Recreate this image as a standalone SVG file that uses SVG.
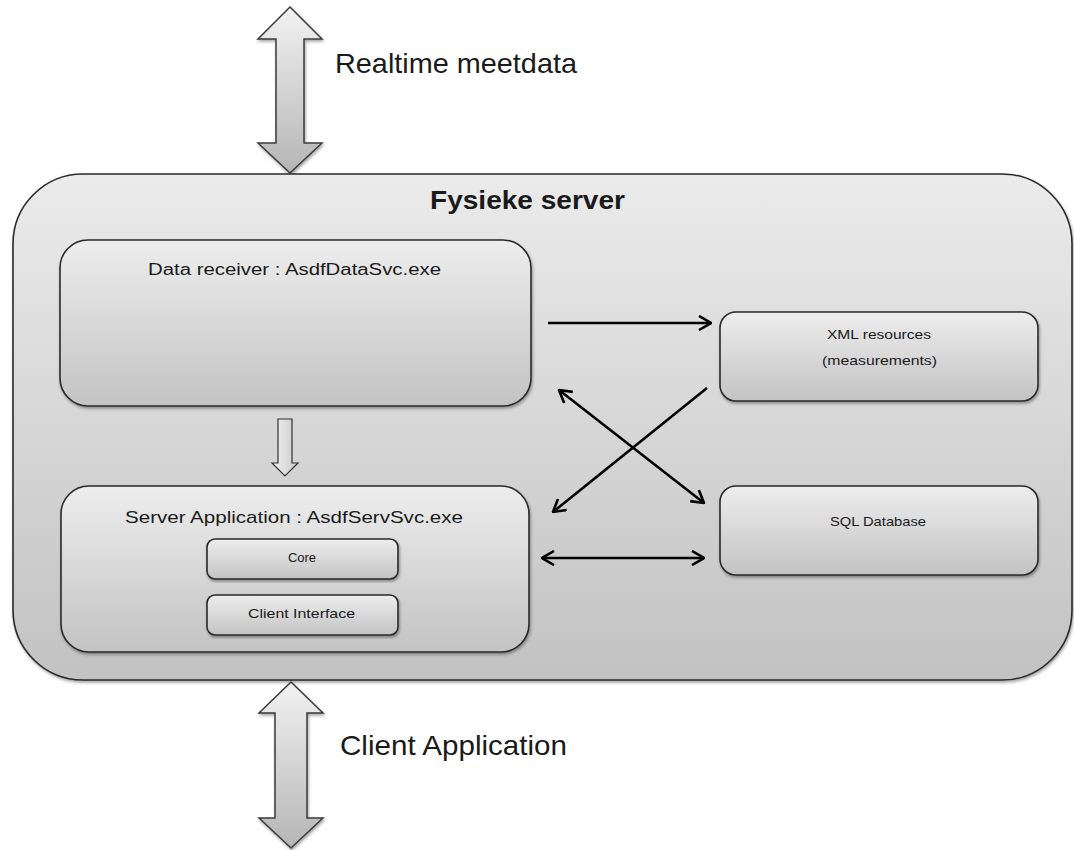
<svg xmlns="http://www.w3.org/2000/svg" width="1074" height="850" viewBox="0 0 1074 850">
<defs>
<linearGradient id="gMain" x1="0" y1="0" x2="0" y2="1">
<stop offset="0" stop-color="#ebebeb"/><stop offset="1" stop-color="#c2c2c2"/>
</linearGradient>
<linearGradient id="gBox" x1="0" y1="0" x2="0" y2="1">
<stop offset="0" stop-color="#ededed"/><stop offset="1" stop-color="#c3c3c3"/>
</linearGradient>
<linearGradient id="gArrow" x1="0" y1="0" x2="0" y2="1">
<stop offset="0" stop-color="#f2f2f2"/><stop offset="1" stop-color="#b5b5b5"/>
</linearGradient>
<linearGradient id="gArrowH" x1="0" y1="0" x2="1" y2="0">
<stop offset="0" stop-color="#f4f4f4"/><stop offset="1" stop-color="#c8c8c8"/>
</linearGradient>
<filter id="shadow" x="-5%" y="-5%" width="110%" height="115%">
<feDropShadow dx="1" dy="2" stdDeviation="1.5" flood-color="#000" flood-opacity="0.35"/>
</filter>
<marker id="chev" viewBox="0 0 14 16" refX="13" refY="8" markerWidth="14" markerHeight="16" markerUnits="userSpaceOnUse" orient="auto-start-reverse">
<path d="M1,1 L13,8 L1,15" fill="none" stroke="#000" stroke-width="2.6"/>
</marker>
</defs>
<style>
.box{stroke:#2a2a2a;stroke-width:1.6;fill:url(#gBox);filter:url(#shadow)}
.big{fill:url(#gArrow);stroke:#3a3a3a;stroke-width:1.5;filter:url(#shadow)}
.t{font-family:"Liberation Sans",Arial,sans-serif;fill:#1a1a1a}
.conn{stroke:#000;stroke-width:2.6;fill:none}
</style>

<g id="realtime-arrow">
<path class="big" d="M290,7 L322,39 L304,39 L304,143 L322,143 L290,173 L258,143 L276,143 L276,39 L258,39 Z"/>
<text class="t" x="335" y="73" font-size="28" textLength="242" lengthAdjust="spacingAndGlyphs">Realtime meetdata</text>
</g>

<g id="fysieke-server">
<rect x="13" y="174" width="1059" height="506" rx="70" ry="70" fill="url(#gMain)" stroke="#2a2a2a" stroke-width="1.6" filter="url(#shadow)"/>
<text class="t" x="430" y="209" font-size="26" font-weight="bold" textLength="195" lengthAdjust="spacingAndGlyphs">Fysieke server</text>
</g>

<g id="client-arrow">
<path class="big" d="M291,682 L323,713 L307,713 L307,818 L323,818 L291,848 L259,818 L275,818 L275,713 L259,713 Z"/>
<text class="t" x="340" y="755" font-size="28" textLength="227" lengthAdjust="spacingAndGlyphs">Client Application</text>
</g>

<g id="data-receiver">
<rect class="box" x="60" y="240" width="471" height="166" rx="28" ry="28"/>
<text class="t" x="148" y="275" font-size="16" textLength="293" lengthAdjust="spacingAndGlyphs">Data receiver : AsdfDataSvc.exe</text>
</g>

<g id="server-application">
<rect class="box" x="61" y="486" width="468" height="166" rx="28" ry="28"/>
<text class="t" x="125" y="523" font-size="17" textLength="338" lengthAdjust="spacingAndGlyphs">Server Application : AsdfServSvc.exe</text>
</g>

<g id="core">
<rect class="box" x="207" y="539" width="191" height="40" rx="8" ry="8"/>
<text class="t" x="302" y="562" font-size="13" text-anchor="middle">Core</text>
</g>

<g id="client-interface">
<rect class="box" x="207" y="595" width="191" height="40" rx="8" ry="8"/>
<text class="t" x="248" y="618" font-size="13" textLength="107" lengthAdjust="spacingAndGlyphs">Client Interface</text>
</g>

<g id="xml-resources">
<rect class="box" x="720" y="312" width="318" height="89" rx="16" ry="16"/>
<text class="t" x="827" y="339" font-size="13" textLength="104" lengthAdjust="spacingAndGlyphs">XML resources</text>
<text class="t" x="822" y="365" font-size="13" textLength="115" lengthAdjust="spacingAndGlyphs">(measurements)</text>
</g>

<g id="sql-database">
<rect class="box" x="720" y="486" width="318" height="89" rx="16" ry="16"/>
<text class="t" x="830" y="526" font-size="13" textLength="96" lengthAdjust="spacingAndGlyphs">SQL Database</text>
</g>

<g id="connectors">
<path d="M278,419 L292,419 L292,463 L298,463 L285,476 L272,463 L278,463 Z" fill="url(#gArrowH)" stroke="#333" stroke-width="1.2"/>
<line class="conn" x1="548" y1="323" x2="711" y2="323" marker-end="url(#chev)"/>
<line class="conn" x1="707" y1="388" x2="553" y2="512" marker-end="url(#chev)"/>
<line class="conn" x1="559" y1="390" x2="704" y2="503" marker-start="url(#chev)" marker-end="url(#chev)"/>
<line class="conn" x1="542" y1="558" x2="704" y2="558" marker-start="url(#chev)" marker-end="url(#chev)"/>
</g>
</svg>
